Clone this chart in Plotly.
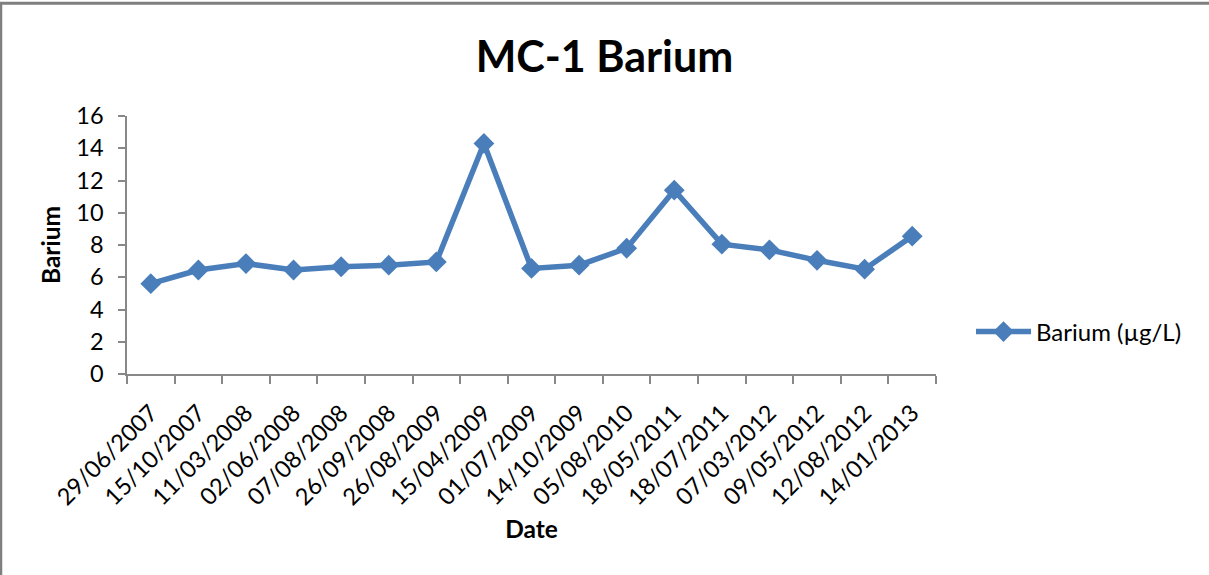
import plotly.graph_objects as go

dates = ["29/06/2007", "15/10/2007", "11/03/2008", "02/06/2008", "07/08/2008",
         "26/09/2008", "26/08/2009", "15/04/2009", "01/07/2009", "14/10/2009",
         "05/08/2010", "18/05/2011", "18/07/2011", "07/03/2012", "09/05/2012",
         "12/08/2012", "14/01/2013"]
barium = [5.6, 6.45, 6.85, 6.45, 6.65, 6.75, 6.95, 14.3, 6.55, 6.75,
          7.8, 11.4, 8.05, 7.7, 7.05, 6.5, 8.55]
y_ticks = [0, 2, 4, 6, 8, 10, 12, 14, 16]

W, H = 1209, 575
L, R, T, B = 127, 273, 116, 201
pw, ph = W - L - R, H - T - B

def px(x):
    return (x - L) / pw

def py(y):
    return (H - B - y) / ph

FONT = "Lato"
BLUE = "#4a7ebb"
GRAY = "#888888"

fig = go.Figure()
fig.add_trace(go.Scatter(
    x=dates, y=barium, mode="lines+markers", name="Barium (µg/L)",
    line=dict(color=BLUE, width=5.5),
    marker=dict(symbol="diamond", size=16, color=BLUE),
))

fig.update_layout(
    width=W, height=H,
    margin=dict(l=L, r=R, t=T, b=B, autoexpand=False),
    paper_bgcolor="white", plot_bgcolor="white",
    font=dict(family=FONT, color="black"),
    title=dict(text="<b>MC-1 Barium</b>", x=0.5, xref="container",
               y=1 - 57 / H, yref="container", xanchor="center", yanchor="middle",
               font=dict(size=43, family=FONT, color="black")),
    showlegend=True,
    legend=dict(x=971 / W, y=1 - 332 / H, xref="container", yref="container",
                xanchor="left", yanchor="middle",
                font=dict(size=24, family=FONT, color="black"),
                itemwidth=55,
                bgcolor="rgba(0,0,0,0)"),
    xaxis=dict(type="category", range=[-0.5, len(dates) - 0.5],
               tickson="boundaries", ticks="outside", ticklen=8, tickwidth=1.5,
               tickcolor=GRAY, showline=True, linecolor=GRAY, linewidth=1.5,
               showgrid=False, zeroline=False, tickangle=-45,
               ticklabelstandoff=14, automargin=False,
               tickfont=dict(size=23.5, family=FONT, color="black"),
               title=dict(text="<b>Date</b>", font=dict(size=24.5, family=FONT, color="black"),
                          standoff=12)),
    yaxis=dict(range=[0, 16], tickvals=y_ticks, ticks="outside", ticklen=7, tickwidth=1.5,
               tickcolor=GRAY, showline=True, linecolor=GRAY, linewidth=1.5,
               showgrid=False, zeroline=False, automargin=False,
               ticklabelstandoff=10,
               tickfont=dict(size=23.5, family=FONT, color="black"),
               title=dict(text="<b>Barium</b>", font=dict(size=24.5, family=FONT, color="black"),
                          standoff=9)),
    shapes=[
        dict(type="line", xref="paper", yref="paper", x0=px(0), x1=px(W), y0=py(3.3), y1=py(3.3),
             line=dict(color="#7f7f7f", width=3), layer="above"),
        dict(type="line", xref="paper", yref="paper", x0=px(1), x1=px(1), y0=py(2), y1=py(H),
             line=dict(color="#7f7f7f", width=2.5), layer="above"),
    ],
)

fig.write_html("out.html", config={"displayModeBar": False},
               post_script="document.body.style.margin='0';document.body.style.overflow='hidden';")
